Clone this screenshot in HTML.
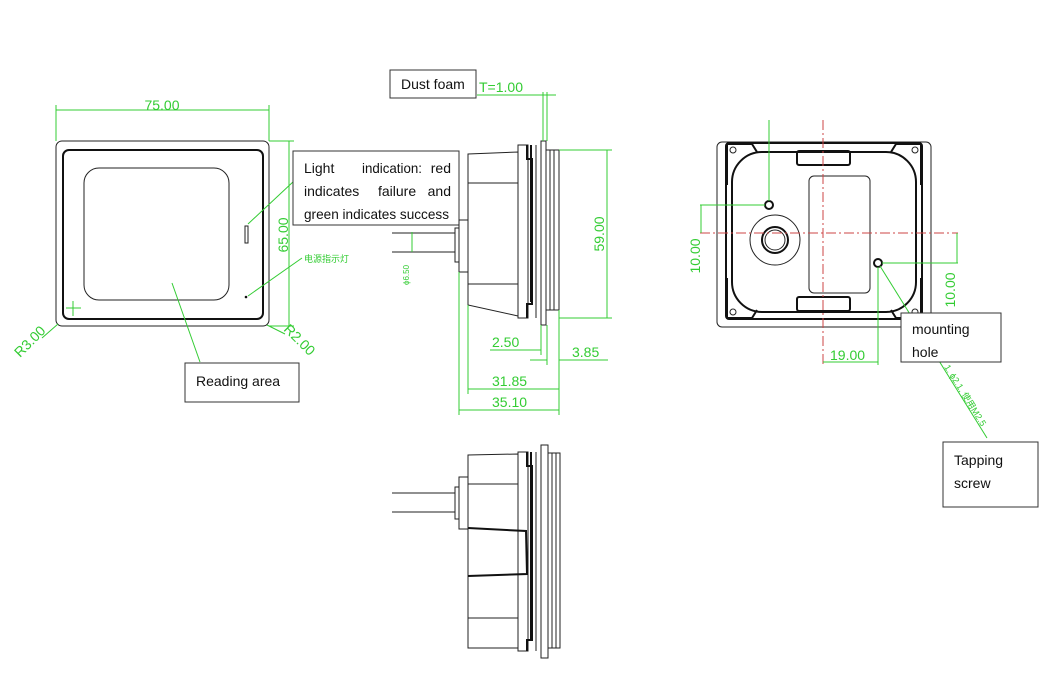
<!DOCTYPE html>
<html><head><meta charset="utf-8"><style>
html,body{margin:0;padding:0;background:#fff;width:1058px;height:673px;overflow:hidden}
svg{display:block}
.k{fill:none;stroke:#222;stroke-width:1}
.kb{fill:none;stroke:#111;stroke-width:2}
.g{fill:none;stroke:#3c3;stroke-width:1}
.gt{fill:#3c3;font-family:"Liberation Sans",sans-serif;font-size:14px}
.bx{fill:#fff;stroke:#333;stroke-width:1}
.bt{fill:#111;font-family:"Liberation Sans",sans-serif;font-size:14px}
.r{stroke:#c44;stroke-width:1;stroke-dasharray:10,3,2,3;fill:none}
</style></head><body>
<svg width="1058" height="673" viewBox="0 0 1058 673" xmlns="http://www.w3.org/2000/svg">
<rect x="56" y="141" width="213" height="185" rx="6" class="k"/>
<rect x="63" y="150" width="200" height="169" rx="6" class="kb" stroke-width="1.6"/>
<rect x="84" y="168" width="145" height="132" rx="15" class="k"/>
<rect x="245" y="226" width="3" height="17" class="k"/>
<circle cx="246" cy="297" r="1.3" fill="#111"/>
<path d="M66 308h15M73 301v15" class="g"/>
<path d="M56 141V105M269 141V105M56 110H269" class="g"/>
<text x="162" y="110" class="gt" text-anchor="middle">75.00</text>
<path d="M269 141H294M269 326H294M289 141V326" class="g"/>
<text transform="translate(288,235) rotate(-90)" class="gt" text-anchor="middle">65.00</text>
<path d="M58 324L42 338" class="g"/>
<text transform="translate(20,358) rotate(-45)" class="gt">R3.00</text>
<path d="M267 325L285 334" class="g"/>
<text transform="translate(283,330) rotate(45)" class="gt">R2.00</text>
<path d="M294 181L248 224" class="g"/>
<rect x="293" y="151" width="166" height="74" class="bx"/>
<text x="304" y="173" class="bt">Light</text><text x="362" y="173" class="bt" textLength="60" lengthAdjust="spacingAndGlyphs">indication:</text><text x="451" y="173" class="bt" text-anchor="end">red</text>
<text x="304" y="196" class="bt">indicates</text><text x="378" y="196" class="bt">failure</text><text x="451" y="196" class="bt" text-anchor="end">and</text>
<text x="304" y="219" class="bt" textLength="145" lengthAdjust="spacingAndGlyphs">green indicates success</text>
<path d="M302 258L248 296" class="g"/>
<text x="304" y="262" class="gt" style="font-size:9px;font-family:'Liberation Sans','Noto Sans CJK SC',sans-serif">电源指示灯</text>
<path d="M200 362L172 283" class="g"/>
<rect x="185" y="363" width="114" height="39" class="bx"/>
<text x="196" y="386" class="bt">Reading area</text>

<path d="M468 154L518 152V316L468 305Z" class="k"/>
<path d="M468 183H518M468 284H518" class="k"/>
<path d="M518 145H528V318H518Z" class="k"/>
<path d="M527 145V159H532V304H527V318M531 145V302" class="kb" stroke-width="1.3"/>
<path d="M536 145V318" class="k"/>
<rect x="541" y="141" width="5" height="184" class="k"/>
<rect x="546" y="150" width="13" height="160" class="k"/>
<path d="M550 150V310M554 150V310" class="k"/>
<rect x="459" y="220" width="9" height="52" class="k"/>
<path d="M459 228H455V262H459" class="k"/>
<path d="M392 233H455M392 252H455" class="k"/>
<path d="M412 232V252" class="g"/>
<text transform="translate(409,285) rotate(-90)" class="gt" style="font-size:8px">ϕ6.50</text>
<path d="M559 150H612M559 318H612M607 150V318" class="g"/>
<text transform="translate(604,234) rotate(-90)" class="gt" text-anchor="middle">59.00</text>
<path d="M477 95H556M543 92V141M547 92V141" class="g"/>
<text x="479" y="92" class="gt">T=1.00</text>
<rect x="390" y="70" width="86" height="28" class="bx"/>
<text x="401" y="89" class="bt">Dust foam</text>
<path d="M468 305V394M459 272V415M541 325V355M547 325V365M559 310V415" class="g"/>
<path d="M490 350H541M530 360H547M559 360H608M468 389H559M459 410H559" class="g"/>
<text x="492" y="347" class="gt">2.50</text>
<text x="572" y="357" class="gt">3.85</text>
<text x="492" y="386" class="gt">31.85</text>
<text x="492" y="407" class="gt">35.10</text>

<path d="M468 455L518 454V648L468 648Z" class="k"/>
<path d="M468 484H518M468 618H518" class="k"/>
<path d="M518 452H528V651H518Z" class="k"/>
<path d="M527 452V466H532V640H527V651M531 452V640" class="kb" stroke-width="1.3"/>
<path d="M536 452V651" class="k"/>
<rect x="541" y="445" width="7" height="213" class="k"/>
<rect x="548" y="453" width="12" height="195" class="k"/>
<path d="M552 453V648M556 453V648" class="k"/>
<path d="M468 528L526 531L527 574L468 576" class="kb" stroke-width="1.8"/>
<rect x="459" y="477" width="9" height="52" class="k"/>
<path d="M459 487H455V519H459" class="k"/>
<path d="M392 493H455M392 512H455" class="k"/>

<rect x="717" y="142" width="214" height="185" rx="5" class="k"/>
<rect x="726" y="143" width="196" height="176" rx="3" class="kb"/>
<rect x="732" y="152" width="184" height="160" rx="30" class="kb" stroke-width="1.5"/>
<path d="M727 144H752L757 152M727 144V185M921 144H896L891 152M921 144V185M727 318H752L757 310M727 318V278M921 318H896L891 310M921 318V278" class="kb" stroke-width="1.5"/>
<circle cx="733" cy="150" r="3" class="k"/><circle cx="915" cy="150" r="3" class="k"/><circle cx="733" cy="312" r="3" class="k"/><circle cx="915" cy="312" r="3" class="k"/>
<rect x="797" y="151" width="53" height="14" rx="2" class="kb" stroke-width="1.3"/>
<rect x="797" y="297" width="53" height="14" rx="2" class="kb" stroke-width="1.3"/>
<rect x="809" y="176" width="61" height="117" rx="5" class="k"/>
<circle cx="775" cy="240" r="25" class="k"/>
<circle cx="775" cy="240" r="13" class="kb" stroke-width="2.5"/>
<circle cx="775" cy="240" r="10" class="k"/>
<circle cx="769" cy="205" r="4" class="kb" stroke-width="1.5"/>
<circle cx="878" cy="263" r="4" class="kb" stroke-width="1.5"/>
<path d="M823 120V365" class="r" stroke="#a33"/>
<path d="M700 233H958" class="r"/>
<path d="M769 120V201M700 205H765M701 205V233" class="g"/>
<text transform="translate(700,256) rotate(-90)" class="gt" text-anchor="middle">10.00</text>
<path d="M882 263H958M957 233V263" class="g"/>
<text transform="translate(955,290) rotate(-90)" class="gt" text-anchor="middle">10.00</text>
<path d="M878 267V365M823 362H878" class="g"/>
<text x="830" y="360" class="gt">19.00</text>
<path d="M880 266L987 438" class="g"/>
<text transform="translate(944,367) rotate(58)" class="gt" style="font-size:9px;font-family:'Liberation Sans','Noto Sans CJK SC',sans-serif">1. ϕ2.1, 使用M2.5</text>
<rect x="901" y="313" width="100" height="49" class="bx"/>
<text x="912" y="334" class="bt">mounting</text>
<text x="912" y="357" class="bt">hole</text>
<rect x="943" y="442" width="95" height="65" class="bx"/>
<text x="954" y="465" class="bt">Tapping</text>
<text x="954" y="488" class="bt">screw</text>
</svg>
</body></html>
